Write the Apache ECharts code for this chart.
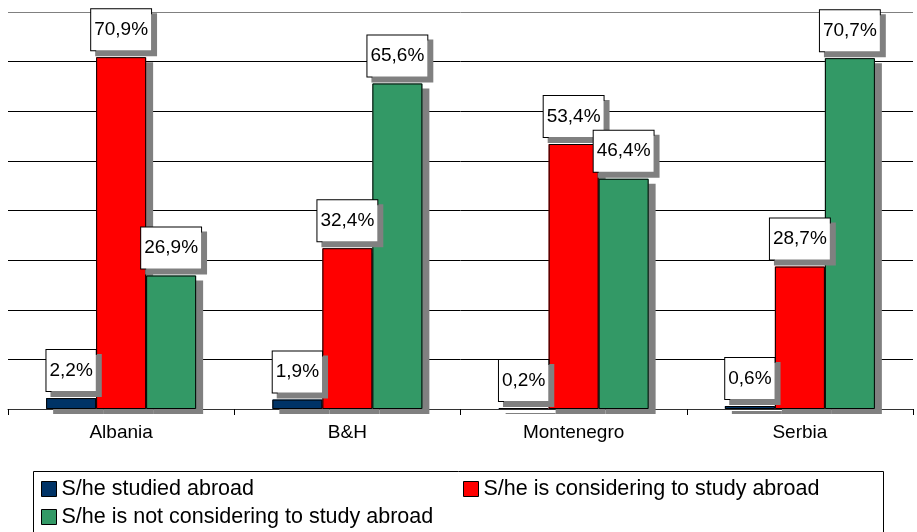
<!DOCTYPE html>
<html>
<head>
<meta charset="utf-8">
<script src="https://cdn.jsdelivr.net/npm/echarts@6/dist/echarts.min.js"></script>
<style>html,body{margin:0;padding:0;background:#fff;}#c{width:917px;height:532px;}</style>
</head>
<body>
<div id="c"></div>
<script>
const categories = ['Albania', 'B&H', 'Montenegro', 'Serbia'];
const seriesNames = ['S/he studied abroad', 'S/he is considering to study abroad', 'S/he is not considering to study abroad'];
const studiedAbroad = [2.2, 1.9, 0.2, 0.6];
const considering = [70.9, 32.4, 53.4, 28.7];
const notConsidering = [26.9, 65.6, 46.4, 70.7];
const colors = ['#003366', '#FF0000', '#339966'];
const FONT = '"Liberation Sans", Arial, sans-serif';

const chart = echarts.init(document.getElementById('c'), null, {renderer: 'canvas'});

// filled bars with drop shadow (no border, so the shadow is not drawn inside the bar)
function fillSeries(name, data, color) {
  return {
    name: name,
    type: 'bar',
    xAxisIndex: 0,
    data: data,
    barWidth: 50,
    barGap: '0%',
    itemStyle: {
      color: color,
      borderWidth: 0,
      shadowColor: '#808080',
      shadowBlur: 0,
      shadowOffsetX: 7,
      shadowOffsetY: 5
    },
    emphasis: {disabled: true},
    silent: true
  };
}
// outline bars (same geometry on an identical overlaid axis) carrying the labels
function outlineSeries(name, data) {
  return {
    name: name + ' ',
    type: 'bar',
    xAxisIndex: 1,
    data: data,
    barWidth: 50,
    barGap: '0%',
    itemStyle: {color: 'rgba(0,0,0,0)', borderColor: '#000', borderWidth: 1},
    label: {
      show: true,
      position: 'top',
      distance: 7,
      formatter: p => p.value.toFixed(1).replace('.', ',') + '%',
      fontFamily: FONT,
      fontSize: 19,
      color: '#000',
      backgroundColor: '#fff',
      borderColor: '#000',
      borderWidth: 1,
      padding: [11, 3, 11, 3],
      shadowColor: '#808080',
      shadowBlur: 0,
      shadowOffsetX: 5,
      shadowOffsetY: 5
    },
    emphasis: {disabled: true},
    silent: true
  };
}

const legendBase = {
  itemWidth: 15,
  itemHeight: 15,
  icon: 'rect',
  textStyle: {fontFamily: FONT, fontSize: 21.5, color: '#000'},
  itemStyle: {borderColor: '#000', borderWidth: 1, shadowBlur: 0, shadowOffsetX: 0, shadowOffsetY: 0, shadowColor: 'rgba(0,0,0,0)'},
  padding: 0,
  selectedMode: false
};

chart.setOption({
  animation: false,
  backgroundColor: '#fff',
  grid: {left: 8, right: 4, top: 12, bottom: 123, containLabel: false},
  xAxis: [{
    type: 'category',
    data: categories,
    axisLine: {lineStyle: {color: '#333', width: 1}},
    axisTick: {show: true, length: 6, lineStyle: {color: '#000'}},
    axisLabel: {fontFamily: FONT, fontSize: 19, color: '#000', margin: 14}
  }, {
    type: 'category',
    data: categories,
    position: 'bottom',
    show: false
  }],
  yAxis: {
    type: 'value',
    min: 0,
    max: 80,
    interval: 10,
    axisLabel: {show: false},
    axisLine: {show: false},
    axisTick: {show: false},
    splitLine: {lineStyle: {color: ['#000', '#000', '#000', '#000', '#000', '#000', '#000', '#000', '#808080'], width: 1}}
  },
  legend: [
    Object.assign({}, legendBase, {data: [seriesNames[0]], left: 41, top: 478}),
    Object.assign({}, legendBase, {data: [seriesNames[1]], left: 463, top: 478}),
    Object.assign({}, legendBase, {data: [seriesNames[2]], left: 41, top: 506})
  ],
  graphic: [{
    type: 'rect',
    shape: {x: 33.5, y: 471.5, width: 850, height: 80},
    style: {fill: 'none', stroke: '#000', lineWidth: 1},
    silent: true
  }],
  series: [
    fillSeries(seriesNames[0], studiedAbroad, colors[0]),
    fillSeries(seriesNames[1], considering, colors[1]),
    fillSeries(seriesNames[2], notConsidering, colors[2]),
    outlineSeries(seriesNames[0], studiedAbroad),
    outlineSeries(seriesNames[1], considering),
    outlineSeries(seriesNames[2], notConsidering)
  ]
});
</script>
</body>
</html>
